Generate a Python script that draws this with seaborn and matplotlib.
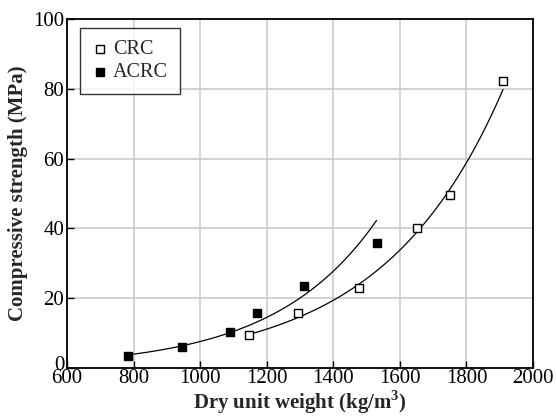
import numpy as np
import pandas as pd
import matplotlib
matplotlib.use("Agg")
import matplotlib.pyplot as plt
import matplotlib.transforms as mtransforms
import seaborn as sns

# Data
crc_x = [1147, 1294, 1476, 1650, 1752, 1910]
crc_y = [9.5, 15.8, 22.8, 40.2, 49.6, 82.2]
acrc_x = [784, 944, 1091, 1170, 1312, 1532]
acrc_y = [3.5, 6.1, 10.4, 15.8, 23.5, 35.9]
# Exponential trend lines y = a*exp(b*(x - x0))
crc_fit = {"a": 9.7, "b": 0.002773, "x0": 1150, "x1": 1910}
acrc_fit = {"a": 3.9, "b": 0.003243, "x0": 795, "x1": 1530}
x_ticks = [600, 800, 1000, 1200, 1400, 1600, 1800, 2000]
y_ticks = [0, 20, 40, 60, 80, 100]

sns.set_theme(style="white")
plt.rcParams["font.family"] = ["Liberation Serif", "DejaVu Serif"]
plt.rcParams["mathtext.fontset"] = "custom"
plt.rcParams["mathtext.rm"] = "Liberation Serif"
plt.rcParams["mathtext.bf"] = "Liberation Serif:bold"

fig = plt.figure(figsize=(5.56, 4.19), dpi=100)
ax = fig.add_axes([67 / 556, 1 - 368 / 419, (533 - 67) / 556, (368 - 19) / 419])

df = pd.concat([
    pd.DataFrame({"x": crc_x, "y": crc_y, "s": "CRC"}),
    pd.DataFrame({"x": acrc_x, "y": acrc_y, "s": "ACRC"}),
])

for f in (crc_fit, acrc_fit):
    xs = np.linspace(f["x0"], f["x1"], 100)
    ys = f["a"] * np.exp(f["b"] * (xs - f["x0"]))
    sns.lineplot(x=xs, y=ys, ax=ax, color="black", lw=0.9, zorder=3)

sns.scatterplot(data=df[df.s == "CRC"], x="x", y="y", ax=ax, marker="s", s=40,
                facecolor="white", edgecolor="black", linewidth=1.0, zorder=4, label="CRC")
sns.scatterplot(data=df[df.s == "ACRC"], x="x", y="y", ax=ax, marker="s", s=40,
                color="black", edgecolor="black", linewidth=1.0, zorder=4, label="ACRC")

ax.set_xlim(600, 2000)
ax.set_ylim(0, 100)
ax.set_xticks(x_ticks)
ax.set_yticks(y_ticks)
ax.grid(True, color="#c8c8c8", lw=1.1)
ax.set_axisbelow(True)
for sp in ax.spines.values():
    sp.set_color("black")
    sp.set_linewidth(1.3)
ax.tick_params(axis="both", labelsize=15, colors="black", direction="in",
               length=5, width=1, pad=2)
ax.tick_params(axis="x", bottom=True, pad=1)
ax.tick_params(axis="y", left=True)
ax.set_xlabel(r"Dry unit weight (kg/m$^{\mathbf{3}}$)", fontsize=15, fontweight="bold", labelpad=0)
ax.set_ylabel("Compressive strength (MPa)", fontsize=15, fontweight="bold", labelpad=4)

# raise the "0" label so it sits above "600", as in the reference
fig.canvas.draw()
ylabels = ax.get_yticklabels()
ylabels[0].set_transform(ylabels[0].get_transform() +
                         mtransforms.ScaledTranslation(0, 5 / 100, fig.dpi_scale_trans))

leg = ax.legend(loc="upper left", bbox_to_anchor=(0.028, 0.975), frameon=True, fancybox=False,
                edgecolor="black", fontsize=14.5, handletextpad=0.25, borderpad=0.6,
                labelspacing=0.2, handlelength=0.8, markerscale=0.8, borderaxespad=0)
leg.get_frame().set_linewidth(1.0)

fig.savefig("out.png", dpi=100)
